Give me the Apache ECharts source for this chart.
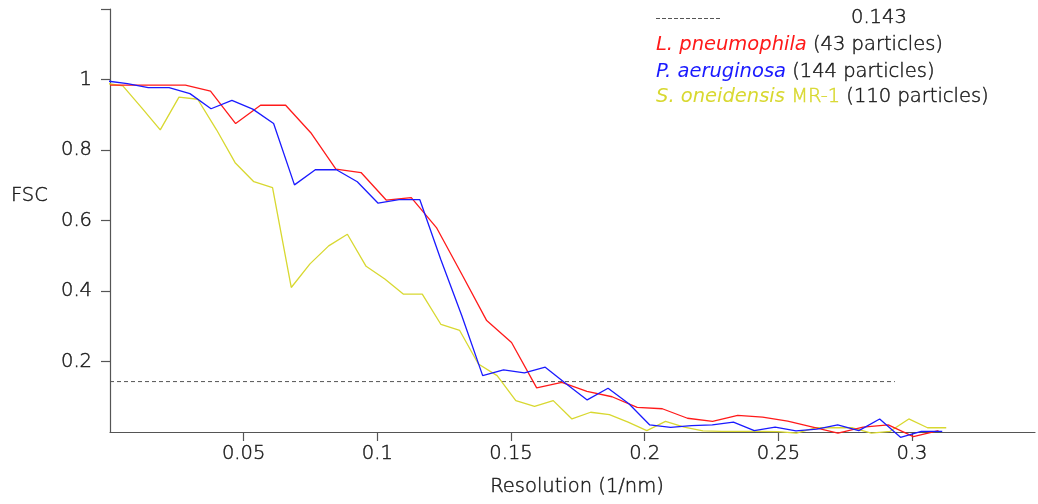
<!DOCTYPE html>
<html>
<head>
<meta charset="utf-8">
<script src="https://cdn.jsdelivr.net/npm/echarts@6/dist/echarts.min.js"></script>
<style>html,body{margin:0;padding:0;background:#fff}#c{width:1038px;height:504px}</style>
</head>
<body>
<div id="c"></div>
<script>
// ---- data ----
const xTicks = [0.05, 0.1, 0.15, 0.2, 0.25, 0.3];
const yLabels = [0.2, 0.4, 0.6, 0.8, 1];
const yTicks = [0.2, 0.4, 0.6, 0.8, 1, 1.2];
const threshold = 0.143;
const thresholdX = [0, 0.2936];

const lpX = [0, 0.0094, 0.0188, 0.0282, 0.0376, 0.0470, 0.0563, 0.0657, 0.0751, 0.0845, 0.0939, 0.1033, 0.1127, 0.1221, 0.1315, 0.1409, 0.1502, 0.1596, 0.1690, 0.1784, 0.1878, 0.1972, 0.2066, 0.2160, 0.2254, 0.2348, 0.2441, 0.2535, 0.2629, 0.2723, 0.2817, 0.2911, 0.3005, 0.3099];
const lpY = [0.984, 0.984, 0.984, 0.984, 0.967, 0.875, 0.927, 0.927, 0.849, 0.746, 0.736, 0.658, 0.665, 0.580, 0.449, 0.316, 0.254, 0.125, 0.141, 0.115, 0.100, 0.070, 0.066, 0.039, 0.030, 0.047, 0.042, 0.031, 0.014, -0.003, 0.014, 0.020, -0.013, 0.004];

const paX = [-0.0013, 0.0065, 0.0143, 0.0221, 0.0299, 0.0378, 0.0456, 0.0534, 0.0612, 0.0690, 0.0768, 0.0847, 0.0925, 0.1003, 0.1081, 0.1159, 0.1237, 0.1316, 0.1394, 0.1472, 0.1550, 0.1628, 0.1706, 0.1785, 0.1863, 0.1941, 0.2019, 0.2097, 0.2175, 0.2253, 0.2332, 0.2410, 0.2488, 0.2566, 0.2644, 0.2722, 0.2801, 0.2879, 0.2957, 0.3035, 0.3113];
const paY = [0.996, 0.988, 0.977, 0.977, 0.960, 0.917, 0.941, 0.916, 0.875, 0.701, 0.744, 0.744, 0.710, 0.649, 0.659, 0.659, 0.490, 0.330, 0.160, 0.176, 0.168, 0.184, 0.137, 0.091, 0.124, 0.080, 0.020, 0.013, 0.018, 0.020, 0.028, 0.004, 0.014, 0.003, 0.008, 0.020, 0.004, 0.037, -0.015, 0.002, 0.002];

const soX = [-0.0022, 0.0048, 0.0118, 0.0188, 0.0258, 0.0328, 0.0398, 0.0468, 0.0538, 0.0608, 0.0678, 0.0748, 0.0818, 0.0888, 0.0958, 0.1028, 0.1098, 0.1168, 0.1238, 0.1308, 0.1378, 0.1448, 0.1518, 0.1588, 0.1658, 0.1728, 0.1798, 0.1868, 0.1938, 0.2008, 0.2078, 0.2148, 0.2218, 0.2288, 0.2358, 0.2428, 0.2498, 0.2568, 0.2638, 0.2708, 0.2778, 0.2848, 0.2918, 0.2988, 0.3058, 0.3128];
const soY = [0.990, 0.982, 0.920, 0.857, 0.950, 0.944, 0.858, 0.764, 0.710, 0.693, 0.410, 0.477, 0.528, 0.561, 0.470, 0.434, 0.391, 0.391, 0.305, 0.288, 0.193, 0.160, 0.089, 0.073, 0.089, 0.037, 0.056, 0.049, 0.028, 0.004, 0.030, 0.014, 0.003, 0.002, 0.002, 0.002, 0.001, -0.003, 0.012, 0.012, 0.012, -0.003, 0.002, 0.037, 0.012, 0.012];

const seriesNames = ['L. pneumophila', 'P. aeruginosa', 'S. oneidensis MR-1'];
const particleCounts = [43, 144, 110];
// --------------------------------------

const FONT = 'DejaVu Sans';
const FW = 200;
const FS = 19.5;
const TXT = '#1a1a1a';
const BW = 0.45;
const RED = '#ff1a1a', BLUE = '#1a1aff', YEL = '#d8d830';
const zip = (xs, ys) => xs.map((x, i) => [x, ys[i]]);

const chart = echarts.init(document.getElementById('c'), null, {renderer: 'canvas'});
const lineSeries = (name, data, color, z) => ({
  type: 'line', name, data, z, clip: false, showSymbol: false, symbol: 'none',
  lineStyle: {color, width: 1.3}, itemStyle: {color}, animation: false
});
// echarts-level text style (axis labels/names)
const ts = (color, extra) => Object.assign({fontFamily: FONT, fontSize: FS, fontWeight: FW, color,
  textBorderColor: color, textBorderWidth: BW}, extra || {});
// zrender-level rich text style (graphic)
const rs = (color, extra) => Object.assign({fontFamily: FONT, fontSize: FS, fontWeight: FW, fill: color,
  stroke: color, lineWidth: BW}, extra || {});
// italic parts: no light oblique face exists, so use the regular oblique without extra stroke
const ri = (color) => ({fontFamily: FONT, fontSize: FS, fontWeight: 'normal', fontStyle: 'italic', fill: color});

chart.setOption({
  animation: false,
  backgroundColor: '#fff',
  grid: {left: 110, right: 3, top: 9, bottom: 72},
  xAxis: {
    type: 'value', min: 0, max: 0.346,
    axisLine: {show: true, onZero: false, lineStyle: {color: '#555', width: 1.2}},
    axisTick: {show: true, length: 9, customValues: xTicks, lineStyle: {color: '#555', width: 1.2}},
    axisLabel: ts(TXT, {customValues: xTicks, margin: 12}),
    splitLine: {show: false},
    name: 'Resolution (1/nm)', nameLocation: 'middle', nameGap: 45,
    nameTextStyle: ts(TXT, {padding: [0, 0, 0, 9]})
  },
  yAxis: {
    type: 'value', min: 0, max: 1.2, interval: 0.2,
    axisLine: {show: true, lineStyle: {color: '#555', width: 1.2}},
    axisTick: {show: true, length: 9, customValues: yTicks, lineStyle: {color: '#555', width: 1.2}},
    axisLabel: ts(TXT, {customValues: yLabels, margin: 18}),
    splitLine: {show: false}
  },
  series: [
    lineSeries(seriesNames[2], zip(soX, soY), YEL, 2),
    lineSeries(seriesNames[0], zip(lpX, lpY), RED, 3),
    lineSeries(seriesNames[1], zip(paX, paY), BLUE, 4),
    {
      type: 'line', name: 'threshold', data: thresholdX.map(x => [x, threshold]), symbol: 'none', z: 1,
      lineStyle: {color: '#555', width: 1, type: [4, 3]}, animation: false
    }
  ],
  graphic: [
    {type: 'line', shape: {x1: 656, y1: 18.5, x2: 722, y2: 18.5}, style: {stroke: '#555', lineWidth: 1, lineDash: [4, 2]}},
    {type: 'text', x: 851, y: 18, style: rs(TXT, {text: String(threshold), textVerticalAlign: 'middle'})},
    {type: 'text', x: 656, y: 44.8, style: {
      text: '{a|' + seriesNames[0] + '}{b| (' + particleCounts[0] + ' particles)}', textVerticalAlign: 'middle',
      rich: {a: ri(RED), b: rs(TXT)}
    }},
    {type: 'text', x: 656, y: 71.5, style: {
      text: '{a|' + seriesNames[1] + '}{b| (' + particleCounts[1] + ' particles)}', textVerticalAlign: 'middle',
      rich: {a: ri(BLUE), b: rs(TXT)}
    }},
    {type: 'text', x: 656, y: 97, style: {
      text: '{a|S. oneidensis}{c| MR-1}{b| (' + particleCounts[2] + ' particles)}', textVerticalAlign: 'middle',
      rich: {a: ri(YEL), c: rs(YEL), b: rs(TXT)}
    }},
    {type: 'text', x: 11, y: 195.5, style: rs(TXT, {text: 'FSC', textVerticalAlign: 'middle'})}
  ]
});
</script>
</body>
</html>
